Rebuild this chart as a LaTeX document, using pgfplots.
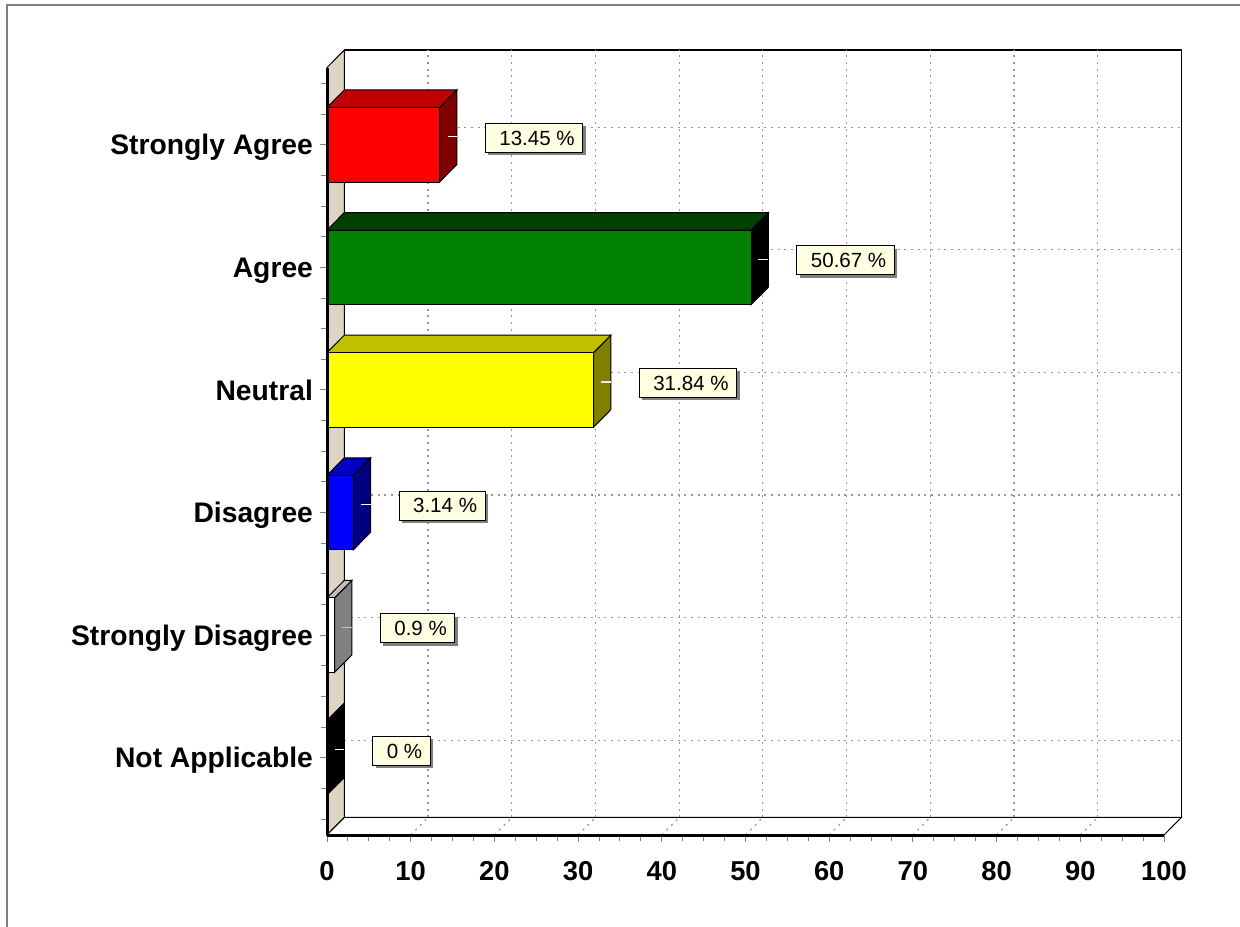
\documentclass[border=0pt]{standalone}
\usepackage{pgfplots}
\pgfplotsset{compat=1.18}
\usepackage{fontspec}
\setmainfont{Liberation Sans}
\usetikzlibrary{shadows}
\definecolor{walltan}{RGB}{222,212,196}
\definecolor{lblbg}{RGB}{255,255,225}
\definecolor{gridg}{RGB}{150,150,150}
\definecolor{frameg}{RGB}{128,128,128}
\definecolor{topRed}{RGB}{192,0,0}
\definecolor{sideRed}{RGB}{128,0,0}
\definecolor{frontGreen}{RGB}{0,128,0}
\definecolor{topGreen}{RGB}{0,64,0}
\definecolor{frontYellow}{RGB}{255,255,0}
\definecolor{topYellow}{RGB}{192,192,0}
\definecolor{sideYellow}{RGB}{128,128,0}
\definecolor{frontBlue}{RGB}{0,0,255}
\definecolor{topBlue}{RGB}{0,0,192}
\definecolor{sideBlue}{RGB}{0,0,128}
\definecolor{topGray}{RGB}{192,192,192}
\definecolor{sideGray}{RGB}{128,128,128}
\definecolor{leader}{RGB}{235,235,235}
\tikzset{
  gridline/.style={gridg, line width=0.9pt, dash pattern=on 1.5pt off 3.5pt},
  lbl/.style={anchor=west, xshift=21pt, fill=lblbg, draw=black, line width=0.75pt,
    font=\fontsize{15.4}{18}\selectfont, inner xsep=6pt, inner ysep=0pt,
    minimum height=21.75pt, text height=11pt, text depth=0pt,
    execute at begin node={\hspace{4.5pt}},
    drop shadow={shadow xshift=2.25pt, shadow yshift=-2.25pt, fill=frameg, opacity=1}},
  face/.style={draw=black, line width=0.75pt},
}
\begin{document}
\begin{tikzpicture}
\useasboundingbox (0,0) rectangle (930pt,694.5pt);
\clip (0,0) rectangle (930pt,694.5pt);
\draw[frameg, line width=1.5pt] (5.25pt,-5pt) |- (940pt,690.75pt);
\begin{axis}[
  at={(245.25pt,68.25pt)}, anchor=south west,
  x=6.2775pt, y=91.95pt,
  xmin=0, xmax=100, ymin=-0.63, ymax=5.63,
  clip=false, axis on top,
  axis x line=bottom, axis y line=left,
  axis line style={-, line width=2.25pt, black},
  xtick={0,10,...,100}, minor x tick num=3,
  ytick={0,1,2,3,4,5},
  yticklabels={Not Applicable, Strongly Disagree, Disagree, Neutral, Agree, Strongly Agree},
  minor ytick={-0.5,-0.25,...,5.5},
  tick align=outside,
  major tick length=5.5pt, minor tick length=4.5pt,
  tick style={gray, line width=0.75pt},
  /pgf/number format/assume math mode=true,
  xticklabel style={font=\bfseries\fontsize{20.5}{24}\selectfont, yshift=-11pt},
  yticklabel style={font=\bfseries\fontsize{21.2}{25}\selectfont, text height=15.2pt, text depth=0pt, xshift=-1.5pt},
]
% back wall
\draw[black, line width=0.9pt, fill=white] (axis cs:2.07,-0.487) rectangle (axis cs:102.07,5.773);
% left wall
\draw[black, line width=0.75pt, fill=walltan] (axis cs:0,-0.63) -- (axis cs:2.07,-0.487) -- (axis cs:2.07,5.773) -- (axis cs:0,5.63) -- cycle;
% floor
\draw[black, line width=0.75pt, fill=white] (axis cs:0,-0.63) -- (axis cs:100,-0.63) -- (axis cs:102.07,-0.487) -- (axis cs:2.07,-0.487) -- cycle;
% grid
\pgfplotsinvokeforeach{12.07,22.07,32.07,42.07,52.07,62.07,72.07,82.07,92.07}{
  \draw[gridline] (axis cs:#1,-0.487) -- (axis cs:#1,5.773);}
\pgfplotsinvokeforeach{10,20,30,40,50,60,70,80,90}{
  \draw[gridline] (axis cs:#1,-0.63) -- ++(12.99pt,13.15pt);}
\pgfplotsinvokeforeach{0.143,1.143,2.143,3.143,4.143,5.143}{
  \draw[gridline] (axis cs:2.07,#1) -- (axis cs:102.07,#1);}

% Strongly Agree 13.45
\addplot[face, fill=sideRed] coordinates {(13.45,4.696) (15.52,4.839) (15.52,5.447) (13.45,5.304)} -- cycle;
\addplot[face, fill=topRed] coordinates {(0,5.304) (13.45,5.304) (15.52,5.447) (2.07,5.447)} -- cycle;
\addplot[face, fill=red] coordinates {(0,4.696) (13.45,4.696) (13.45,5.304) (0,5.304)} -- cycle;
% Agree 50.67
\addplot[face, fill=black] coordinates {(50.67,3.696) (52.74,3.839) (52.74,4.447) (50.67,4.304)} -- cycle;
\addplot[face, fill=topGreen] coordinates {(0,4.304) (50.67,4.304) (52.74,4.447) (2.07,4.447)} -- cycle;
\addplot[face, fill=frontGreen] coordinates {(0,3.696) (50.67,3.696) (50.67,4.304) (0,4.304)} -- cycle;
% Neutral 31.84
\addplot[face, fill=sideYellow] coordinates {(31.84,2.696) (33.91,2.839) (33.91,3.447) (31.84,3.304)} -- cycle;
\addplot[face, fill=topYellow] coordinates {(0,3.304) (31.84,3.304) (33.91,3.447) (2.07,3.447)} -- cycle;
\addplot[face, fill=frontYellow] coordinates {(0,2.696) (31.84,2.696) (31.84,3.304) (0,3.304)} -- cycle;
% Disagree 3.14
\addplot[face, fill=sideBlue] coordinates {(3.14,1.696) (5.21,1.839) (5.21,2.447) (3.14,2.304)} -- cycle;
\addplot[face, fill=topBlue] coordinates {(0,2.304) (3.14,2.304) (5.21,2.447) (2.07,2.447)} -- cycle;
\addplot[face, fill=frontBlue] coordinates {(0,1.696) (3.14,1.696) (3.14,2.304) (0,2.304)} -- cycle;
% Strongly Disagree 0.9
\addplot[face, fill=sideGray] coordinates {(0.9,0.696) (2.97,0.839) (2.97,1.447) (0.9,1.304)} -- cycle;
\addplot[face, fill=topGray] coordinates {(0,1.304) (0.9,1.304) (2.97,1.447) (2.07,1.447)} -- cycle;
\addplot[face, fill=white] coordinates {(0,0.696) (0.9,0.696) (0.9,1.304) (0,1.304)} -- cycle;
% Not Applicable 0
\addplot[face, fill=black] coordinates {(0,-0.304) (2.07,-0.161) (2.07,0.447) (0,0.304)} -- cycle;

% leader ticks
\draw[white, line width=0.9pt] (axis cs:14.40,5.065) -- (axis cs:15.52,5.065);
\draw[leader, line width=0.9pt] (axis cs:51.55,4.065) -- (axis cs:52.74,4.065);
\draw[leader, line width=0.9pt] (axis cs:32.75,3.065) -- (axis cs:33.91,3.065);
\draw[white, line width=0.9pt] (axis cs:4.10,2.065) -- (axis cs:5.21,2.065);
\draw[topGray, line width=0.9pt] (axis cs:1.85,1.065) -- (axis cs:2.97,1.065);
\draw[white, line width=0.9pt] (axis cs:0.95,0.065) -- (axis cs:2.07,0.065);

% value labels
\node[lbl] at (axis cs:15.52,5.057) {13.45 \%};
\node[lbl] at (axis cs:52.74,4.057) {50.67 \%};
\node[lbl] at (axis cs:33.91,3.057) {31.84 \%};
\node[lbl] at (axis cs:5.21,2.057) {3.14 \%};
\node[lbl] at (axis cs:2.97,1.057) {0.9 \%};
\node[lbl] at (axis cs:2.07,0.057) {0 \%};
\end{axis}
\end{tikzpicture}
\end{document}
